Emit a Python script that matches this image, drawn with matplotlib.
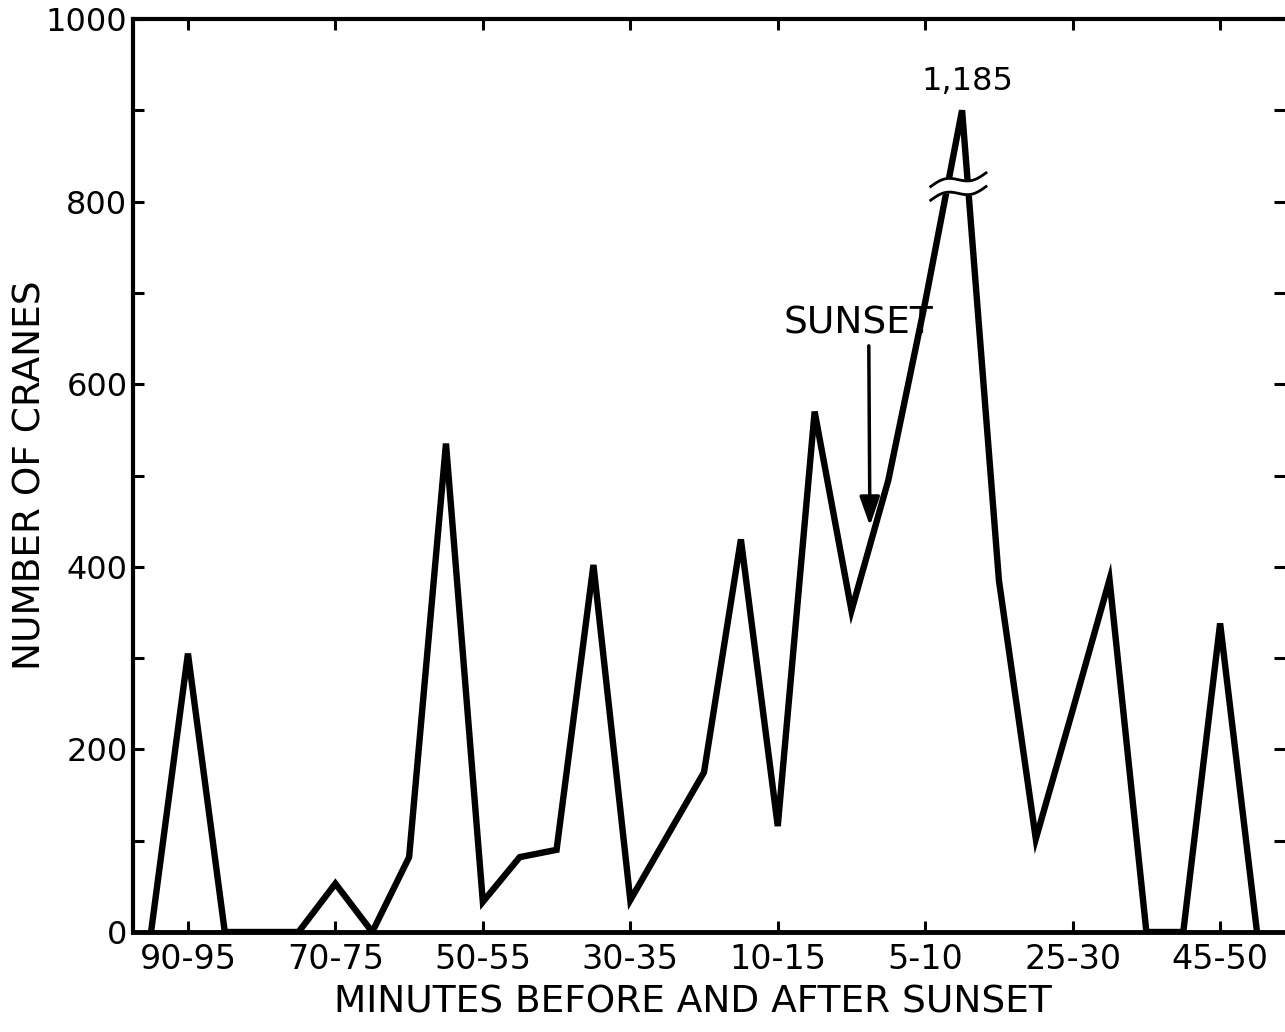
import numpy as np
import matplotlib
matplotlib.use("Agg")
import matplotlib.pyplot as plt

# ---------------- data ----------------
# 5-minute intervals before sunset (95-100 ... 0-5) and after sunset (0-5 ... 50-55)
before_intervals = ["95-100", "90-95", "85-90", "80-85", "75-80", "70-75", "65-70",
                    "60-65", "55-60", "50-55", "45-50", "40-45", "35-40", "30-35",
                    "25-30", "20-25", "15-20", "10-15", "5-10", "0-5"]
after_intervals = ["0-5", "5-10", "10-15", "15-20", "20-25", "25-30", "30-35",
                   "35-40", "40-45", "45-50", "50-55"]
intervals = before_intervals + after_intervals

cranes = [0, 305, 0, 0, 0, 53, 0, 82, 535, 33,
          82, 90, 402, 35, 105, 175, 430, 116, 570, 352,
          495, 690, 1185, 385, 102, 243, 386, 0, 0, 338, 0]

labeled_every = 4          # a label every 4th interval
first_labeled = 1          # starting at "90-95"

BREAK_CAP = 900            # display height of the broken (off-scale) peak

# ---------------- figure ----------------
W, H = 1285, 1032
fig = plt.figure(figsize=(W / 100, H / 100), dpi=100)
L, R, T, B = 133, 1285, 19, 932
ax = fig.add_axes([L / W, (H - B) / H, (R - L) / W, (B - T) / H])

font = ["DejaVu Sans"]
x = np.arange(len(intervals))
display = np.minimum(np.array(cranes, dtype=float), BREAK_CAP)

ax.plot(x, display, color="black", lw=4.6, solid_joinstyle="miter", zorder=2)

ax.set_xlim(-0.49, 30.76)
ax.set_ylim(0, 1000)

# ticks
xt = x[first_labeled::labeled_every]
ax.set_xticks(xt)
ax.set_xticklabels([intervals[i] for i in xt], fontsize=24, family=font)
yt = np.arange(0, 1001, 100)
ax.set_yticks(yt)
ax.set_yticklabels([str(v) if v % 200 == 0 else "" for v in yt], fontsize=23, family=font)
ax.tick_params(axis="both", direction="in", width=2.2, length=8, top=True, right=True,
               colors="black")
ax.tick_params(axis="x", pad=8)
ax.tick_params(axis="y", pad=4)

for side in ["left", "top"]:
    ax.spines[side].set_linewidth(3)
ax.spines["bottom"].set_linewidth(3.5)
ax.spines["right"].set_visible(False)

# axis labels
ax.set_xlabel("MINUTES BEFORE AND AFTER SUNSET", fontsize=27, family=font)
ax.xaxis.set_label_coords(0.486, -0.077)
ax.xaxis.label.set_va("center")
ax.set_ylabel("NUMBER OF CRANES", fontsize=27, family=font)
ax.yaxis.set_label_coords(-0.089, 0.50)
ax.yaxis.label.set_va("center")

# peak annotation with break marks
peak_i = int(np.argmax(cranes))
ax.annotate(f"{cranes[peak_i]:,}", xy=(peak_i, display[peak_i]), xytext=(3.5, 21),
            textcoords="offset points", ha="center", va="center",
            fontsize=23, family=font)

u = np.linspace(0, 1, 80)
xw = peak_i - 0.85 + 1.5 * u
upper = BREAK_CAP - 76 + 15 * (u - 0.5) + 4.5 * np.sin(2 * np.pi * u)
lower = upper - 15
ax.fill_between(xw, lower, upper, color="white", zorder=3)
ax.plot(xw, upper, color="black", lw=2, zorder=4)
ax.plot(xw, lower, color="black", lw=2, zorder=4)

# sunset marker
sunset_x = len(before_intervals) - 0.5
ax.annotate("", xy=(sunset_x, 445), xytext=(sunset_x - 0.03, 642),
            arrowprops=dict(arrowstyle="-|>,head_length=0.8,head_width=0.28",
                            mutation_scale=22, lw=2.5, color="black",
                            shrinkA=0, shrinkB=0))
ax.text(sunset_x - 0.3, 667, "SUNSET", ha="center", va="center",
        fontsize=27, family=font)

fig.savefig("out.png", dpi=100)
